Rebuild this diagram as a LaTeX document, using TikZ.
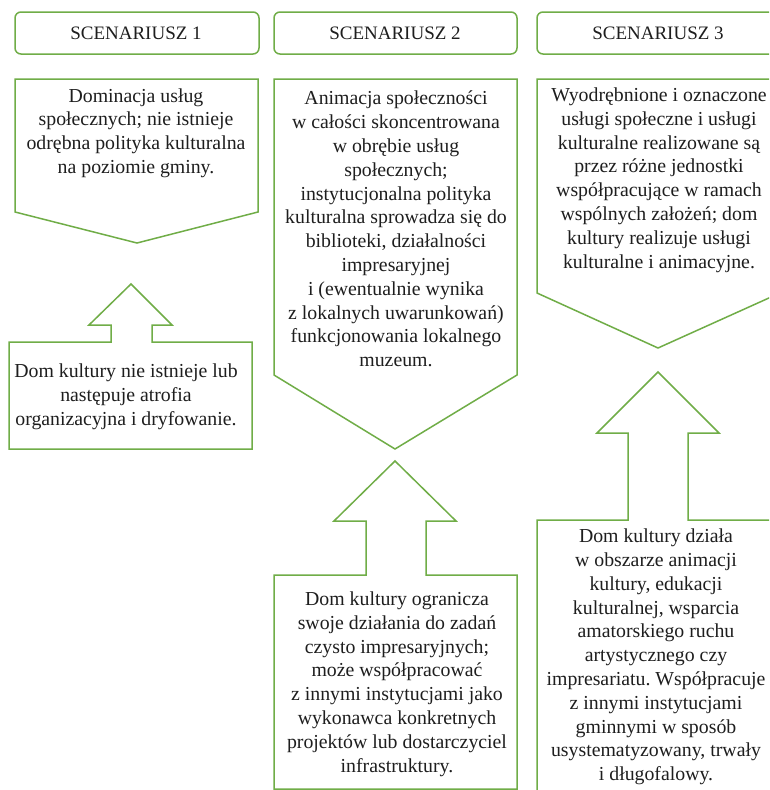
\documentclass[tikz,border=0pt]{standalone}
\usepackage{fontspec}
\setmainfont{Liberation Serif}
\frenchspacing
\definecolor{frame}{RGB}{112,173,71}
\definecolor{ink}{RGB}{30,30,30}
\tikzset{
  shapeline/.style={draw=frame, line width=1.5pt, line join=miter, fill=white},
  headbox/.style={shapeline, rounded corners=6pt},
  bodytext/.style={align=center, inner sep=0pt, text=ink, font=\fontsize{19.8}{23.8}\selectfont},
  headtext/.style={inner sep=0pt, text=ink, font=\fontsize{19}{23}\selectfont},
}
\begin{document}
\begin{tikzpicture}[x=1pt,y=-1pt]
\clip (0,0) rectangle (769,790);
\fill[white] (0,0) rectangle (769,790);
% headers
\draw[headbox] (15,12) rectangle (259,54);
\draw[headbox] (274,12) rectangle (517,54);
\draw[headbox] (537,12) rectangle (790,54);
\node[headtext] (h1) at (136,33) {SCENARIUSZ 1};
\node[headtext] (h2) at (395,33) {SCENARIUSZ 2};
\node[headtext] (h3) at (658,33) {SCENARIUSZ 3};
% pentagons
\draw[shapeline] (15,79) -- (258,79) -- (258,212) -- (137,243) -- (15,212) -- cycle;
\draw[shapeline] (274,79) -- (517,79) -- (517,375) -- (395,449) -- (274,375) -- cycle;
\draw[shapeline] (537,79) -- (780,79) -- (780,293) -- (658,348) -- (537,293) -- cycle;
% up-arrow callouts
\draw[shapeline] (9,342) -- (111,342) -- (111,325) -- (89,325) -- (131,284) -- (172,325) -- (152,325) -- (152,342) -- (252,342) -- (252,449) -- (9,449) -- cycle;
\draw[shapeline] (274,575) -- (366,575) -- (366,521) -- (334,521) -- (395,461) -- (456,521) -- (426,521) -- (426,575) -- (517,575) -- (517,789) -- (274,789) -- cycle;
\draw[shapeline] (537,520) -- (628,520) -- (628,433) -- (597,433) -- (658,372) -- (719,433) -- (688,433) -- (688,520) -- (780,520) -- (780,810) -- (537,810) -- cycle;
% texts
\node[bodytext] (p1) at (136,133) {Dominacja usług\\społecznych; nie istnieje\\odrębna polityka kulturalna\\na poziomie gminy.};
\node[bodytext] (p2) at (396,229) {Animacja społeczności\\w całości skoncentrowana\\w obrębie usług\\społecznych;\\instytucjonalna polityka\\kulturalna sprowadza się do\\biblioteki, działalności\\impresaryjnej\\i (ewentualnie wynika\\z lokalnych uwarunkowań)\\funkcjonowania lokalnego\\muzeum.};
\node[bodytext] (p3) at (659,180) {Wyodrębnione i oznaczone\\usługi społeczne i usługi\\kulturalne realizowane są\\przez różne jednostki\\współpracujące w ramach\\wspólnych założeń; dom\\kultury realizuje usługi\\kulturalne i animacyjne.};
\node[bodytext] (b1) at (126,397) {Dom kultury nie istnieje lub\\następuje atrofia\\organizacyjna i dryfowanie.};
\node[bodytext] (b2) at (397,684) {Dom kultury ogranicza\\swoje działania do zadań\\czysto impresaryjnych;\\może współpracować\\z innymi instytucjami jako\\wykonawca konkretnych\\projektów lub dostarczyciel\\infrastruktury.};
\node[bodytext] (b3) at (656,657) {Dom kultury działa\\w obszarze animacji\\kultury, edukacji\\kulturalnej, wsparcia\\amatorskiego ruchu\\artystycznego czy\\impresariatu. Współpracuje\\z innymi instytucjami\\gminnymi w sposób\\usystematyzowany, trwały\\i długofalowy.};
\end{tikzpicture}
\end{document}
